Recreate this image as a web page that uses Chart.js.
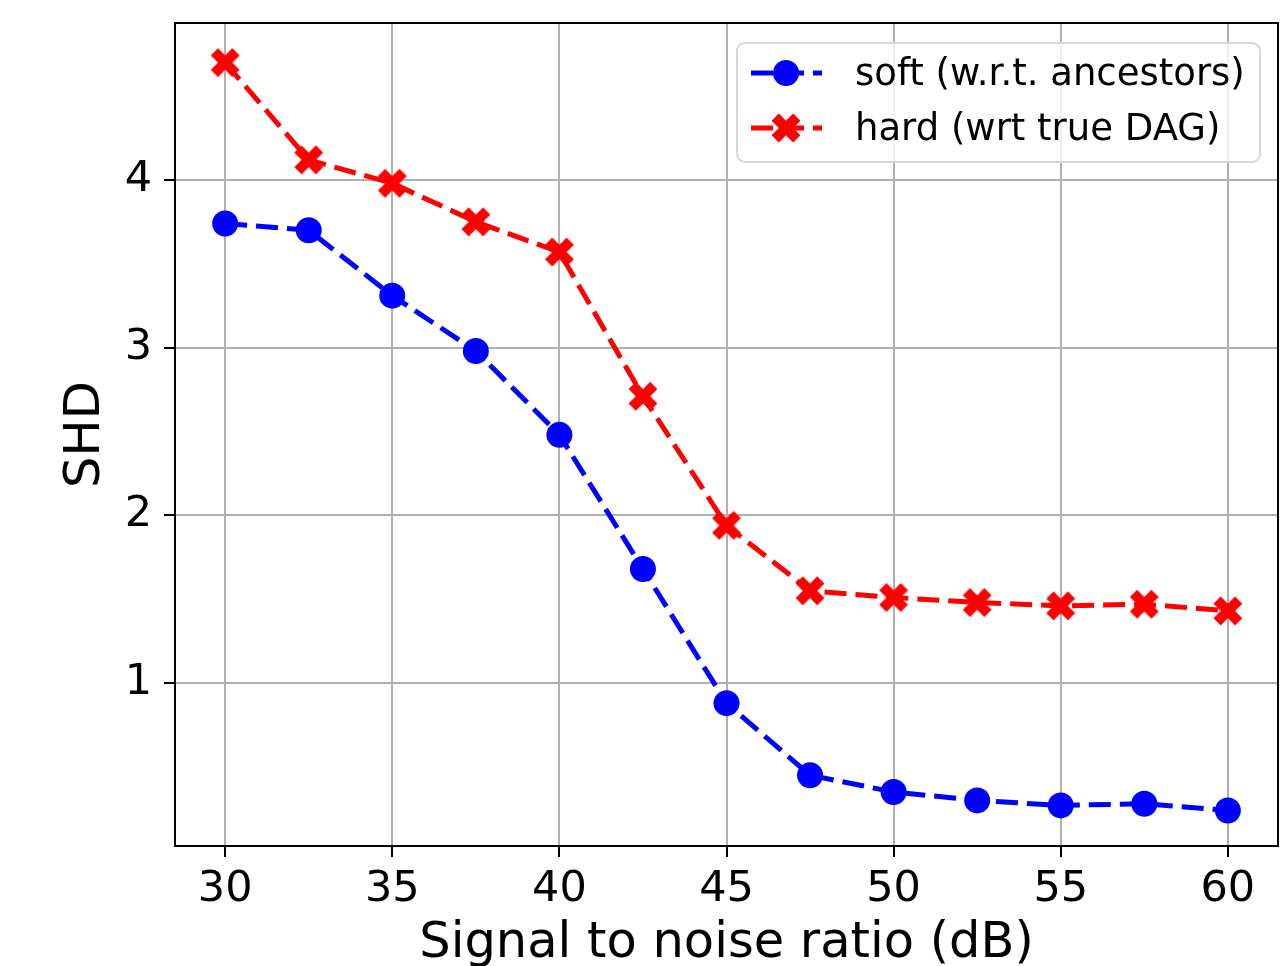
<!DOCTYPE html>
<html>
<head>
<meta charset="utf-8">
<script src="https://cdn.jsdelivr.net/npm/chart.js@4/dist/chart.umd.min.js"></script>
<style>
  html, body { margin: 0; padding: 0; background: #fff; }
  #wrap { width: 1283px; height: 966px; }
</style>
</head>
<body>
<div id="wrap"><canvas id="chart" width="1283" height="966"></canvas></div>
<script>
// values
const snr = [30, 32.5, 35, 37.5, 40, 42.5, 45, 47.5, 50, 52.5, 55, 57.5, 60];
const softShd = [3.74, 3.70, 3.31, 2.98, 2.48, 1.68, 0.88, 0.45, 0.35, 0.30, 0.27, 0.28, 0.24];
const hardShd = [4.70, 4.12, 3.98, 3.75, 3.57, 2.71, 1.94, 1.55, 1.51, 1.48, 1.46, 1.47, 1.43];
const xTicks = [30, 35, 40, 45, 50, 55, 60];
const yTicks = [1, 2, 3, 4];
const seriesLabels = ['soft (w.r.t. ancestors)', 'hard (wrt true DAG)'];

const FONT = "'DejaVu Sans', sans-serif";
const BLUE = '#0000ff';
const RED = '#ff0000';

// filled "X" marker like matplotlib's 'X'
function makeXMarker(size, color) {
    const c = document.createElement('canvas');
    c.width = size; c.height = size;
    const g = c.getContext('2d');
    const pts = [[-1,-3],[1,-3],[1,-1],[3,-1],[3,1],[1,1],[1,3],[-1,3],[-1,1],[-3,1],[-3,-1],[-1,-1]];
    const s = size / 2 / 3 / Math.SQRT2 * 1.35;
    g.translate(size / 2, size / 2);
    g.rotate(Math.PI / 4);
    g.beginPath();
    pts.forEach((p, i) => {
        if (i === 0) g.moveTo(p[0] * s, p[1] * s); else g.lineTo(p[0] * s, p[1] * s);
    });
    g.closePath();
    g.fillStyle = color;
    g.fill();
    return c;
}
const xMarker = makeXMarker(32, RED);

const toPoints = (ys) => snr.map((x, i) => ({ x: x, y: ys[i] }));

const frameBox = {
    id: 'frameBox',
    afterDatasetsDraw(chart) {
        const { ctx, chartArea: a } = chart;
        ctx.save();
        ctx.strokeStyle = '#000';
        ctx.lineWidth = 2;
        ctx.strokeRect(a.left, a.top, a.right - a.left, a.bottom - a.top);
        ctx.restore();
    }
};

// matplotlib-like legend box, top right
const mplLegend = {
    id: 'mplLegend',
    afterDraw(chart) {
        const ctx = chart.ctx;
        const x0 = 737, y0 = 43, w = 523, h = 119, r = 8;
        ctx.save();
        ctx.beginPath();
        ctx.roundRect(x0, y0, w, h, r);
        ctx.fillStyle = 'rgba(255,255,255,0.8)';
        ctx.fill();
        ctx.strokeStyle = '#d6d6d6';
        ctx.lineWidth = 2;
        ctx.stroke();
        const rows = [73, 128];
        chart.data.datasets.forEach((ds, i) => {
            const y = rows[i];
            ctx.beginPath();
            ctx.setLineDash(ds.borderDash);
            ctx.lineDashOffset = 0;
            ctx.strokeStyle = ds.borderColor;
            ctx.lineWidth = ds.borderWidth;
            ctx.moveTo(751, y);
            ctx.lineTo(822, y);
            ctx.stroke();
            ctx.setLineDash([]);
            if (ds.pointStyle === 'circle') {
                ctx.beginPath();
                ctx.arc(786, y, ds.pointRadius, 0, Math.PI * 2);
                ctx.fillStyle = ds.pointBackgroundColor;
                ctx.fill();
            } else {
                ctx.drawImage(ds.pointStyle, 786 - ds.pointStyle.width / 2, y - ds.pointStyle.height / 2);
            }
            ctx.fillStyle = '#000';
            ctx.font = '37px ' + FONT;
            ctx.textBaseline = 'middle';
            ctx.textAlign = 'left';
            ctx.fillText(ds.label, 855, y + 2);
        });
        ctx.restore();
    }
};

new Chart(document.getElementById('chart').getContext('2d'), {
    type: 'line',
    data: {
        datasets: [
            {
                label: seriesLabels[0],
                data: toPoints(softShd),
                borderColor: BLUE,
                backgroundColor: BLUE,
                borderWidth: 5,
                borderDash: [22, 9],
                pointStyle: 'circle',
                pointRadius: 13,
                pointHoverRadius: 13,
                pointBackgroundColor: BLUE,
                pointBorderColor: BLUE,
                pointBorderWidth: 0,
                tension: 0,
                fill: false
            },
            {
                label: seriesLabels[1],
                data: toPoints(hardShd),
                borderColor: RED,
                backgroundColor: RED,
                borderWidth: 5,
                borderDash: [22, 9],
                pointStyle: xMarker,
                pointRadius: 13,
                pointHoverRadius: 13,
                pointBackgroundColor: RED,
                pointBorderColor: RED,
                tension: 0,
                fill: false
            }
        ]
    },
    options: {
        responsive: false,
        animation: false,
        devicePixelRatio: 1,
        layout: { autoPadding: false, padding: { left: 0, right: 5, top: 23, bottom: 0 } },
        plugins: { legend: { display: false }, tooltip: { enabled: false } },
        scales: {
            x: {
                type: 'linear',
                min: 28.5,
                max: 61.5,
                afterBuildTicks: (s) => { s.ticks = xTicks.map(v => ({ value: v })); },
                afterFit: (s) => { s.height = 120; s.paddingLeft = 0; s.paddingRight = 0; },
                ticks: { color: '#000', font: { family: FONT, size: 43 }, padding: 7, maxRotation: 0 },
                grid: { color: '#b0b0b0', lineWidth: 2, tickLength: 11, tickColor: '#000', tickWidth: 2 },
                border: { display: false },
                title: {
                    display: true,
                    text: 'Signal to noise ratio (dB)',
                    color: '#000',
                    font: { family: FONT, size: 49.5, lineHeight: 1 },
                    padding: { top: 0, bottom: -3 }
                }
            },
            y: {
                type: 'linear',
                min: 0.028,
                max: 4.936,
                afterBuildTicks: (s) => { s.ticks = yTicks.map(v => ({ value: v })); },
                afterFit: (s) => { s.width = 175; s.paddingTop = 0; s.paddingBottom = 0; },
                ticks: { color: '#000', font: { family: FONT, size: 43 }, padding: 12 },
                grid: { color: '#b0b0b0', lineWidth: 2, tickLength: 11, tickColor: '#000', tickWidth: 2 },
                border: { display: false },
                title: {
                    display: true,
                    text: 'SHD',
                    color: '#000',
                    font: { family: FONT, size: 49.5, lineHeight: 1 },
                    padding: { top: 61, bottom: 0 }
                }
            }
        }
    },
    plugins: [frameBox, mplLegend]
});
</script>
</body>
</html>
